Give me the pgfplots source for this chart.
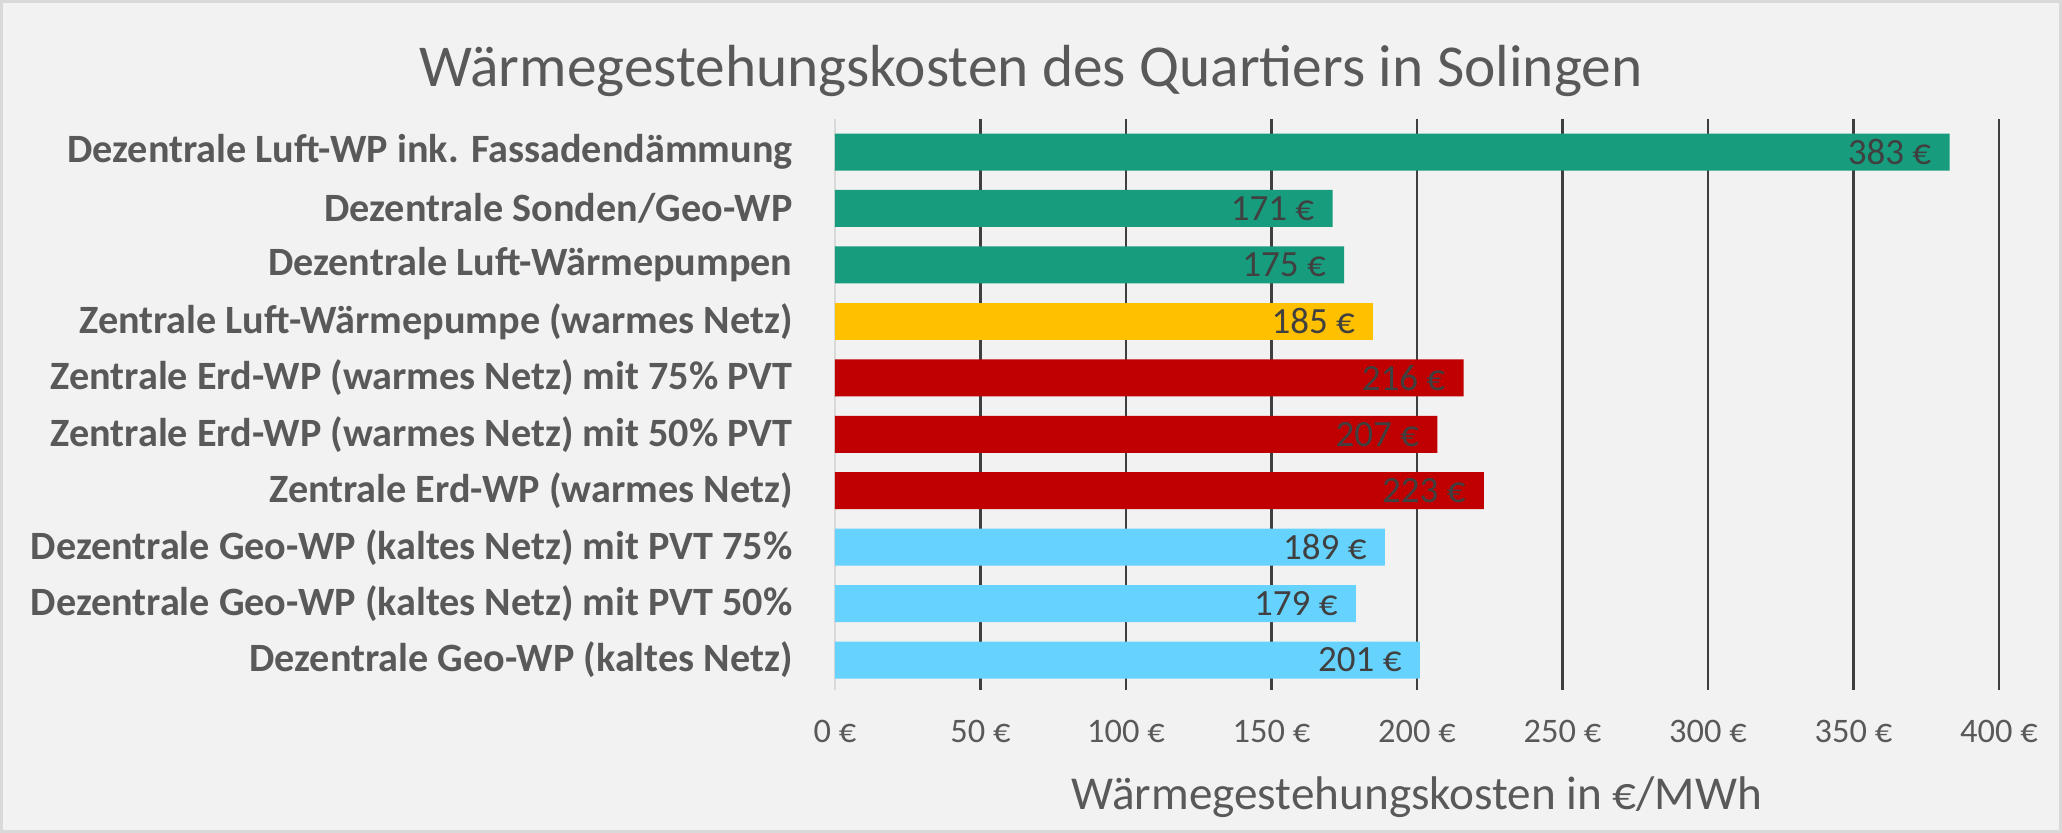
\documentclass[border=0pt]{standalone}
\usepackage{fontspec}
\setmainfont{Carlito}
\usepackage{pgfplots}
\pgfplotsset{compat=1.18}
\definecolor{bg}{HTML}{F2F2F2}
\definecolor{frame}{HTML}{D9D9D9}
\definecolor{txt}{HTML}{595959}
\definecolor{lbl}{HTML}{404040}
\definecolor{gridc}{HTML}{3F3F3F}
\definecolor{lightgrid}{HTML}{D9D9D9}
\definecolor{cgreen}{HTML}{179C7D}
\definecolor{cyellow}{HTML}{FFC000}
\definecolor{cred}{HTML}{C00000}
\definecolor{cblue}{HTML}{66D3FF}
\begin{document}
\begin{tikzpicture}
\fill[bg] (0,0) rectangle (1031pt,416.5pt);
\draw[frame, line width=1.5pt] (0.75pt,0.75pt) rectangle (1030.25pt,415.75pt);
\begin{axis}[
  at={(417.5pt,71.5pt)}, anchor=south west,
  scale only axis, width=582pt, height=285.5pt,
  xbar, bar width=18.5pt,
  xmin=0, xmax=400, ymin=-0.53, ymax=9.585,
  xtick={50,100,150,200,250,300,350,400},
  xticklabels={50 €,100 €,150 €,200 €,250 €,300 €,350 €,400 €},
  extra x ticks={0}, extra x tick labels={0 €},
  extra x tick style={major grid style={draw=lightgrid, line width=1pt}},
  ytick={0,1,2,3,4,5,6,7,8,9},
  yticklabels={
    Dezentrale Geo-WP (kaltes Netz),
    Dezentrale Geo-WP (kaltes Netz) mit PVT 50\%,
    Dezentrale Geo-WP (kaltes Netz) mit PVT 75\%,
    Zentrale Erd-WP (warmes Netz),
    Zentrale Erd-WP (warmes Netz) mit 50\% PVT,
    Zentrale Erd-WP (warmes Netz) mit 75\% PVT,
    Zentrale Luft-Wärmepumpe (warmes Netz),
    Dezentrale Luft-Wärmepumpen,
    Dezentrale Sonden/Geo-WP,
    Dezentrale Luft-WP ink. Fassadendämmung},
  xmajorgrids,
  major grid style={draw=gridc, line width=1.1pt},
  major tick length=0pt,
  axis line style={draw=none},
  xticklabel style={font=\fontsize{17.2}{20}\selectfont, text=txt, inner sep=0pt, anchor=base, yshift=-26.3pt},
  yticklabel style={font=\fontsize{20.1}{22}\selectfont\bfseries, text=txt, inner sep=0pt, anchor=east, xshift=-21pt},
  xlabel={Wärmegestehungskosten in €/MWh},
  every axis x label/.style={at={(axis description cs:0.5,0)}, anchor=base, yshift=-60pt, font=\fontsize{23.6}{26}\selectfont, text=txt},
  nodes near coords={\pgfmathprintnumber[assume math mode=true]{\pgfplotspointmeta} €},
  every node near coord/.append style={anchor=east, inner sep=0pt, xshift=-9pt, font=\fontsize{18.5}{20}\selectfont, text=lbl},
  clip=false,
]
\addplot[fill=cblue, draw=none, bar shift=0pt] coordinates {(201,0) (179,1) (189,2)};
\addplot[fill=cred, draw=none, bar shift=0pt] coordinates {(223,3) (207,4) (216,5)};
\addplot[fill=cyellow, draw=none, bar shift=0pt] coordinates {(185,6)};
\addplot[fill=cgreen, draw=none, bar shift=0pt] coordinates {(175,7) (171,8) (383,9)};
\end{axis}
\node[font=\fontsize{29.7}{32}\selectfont, text=txt, anchor=base] at (515.5pt,373pt) {Wärmegestehungskosten des Quartiers in Solingen};
\pgfresetboundingbox
\path[use as bounding box] (0,0) rectangle (1031pt,416.5pt);
\end{tikzpicture}
\end{document}
